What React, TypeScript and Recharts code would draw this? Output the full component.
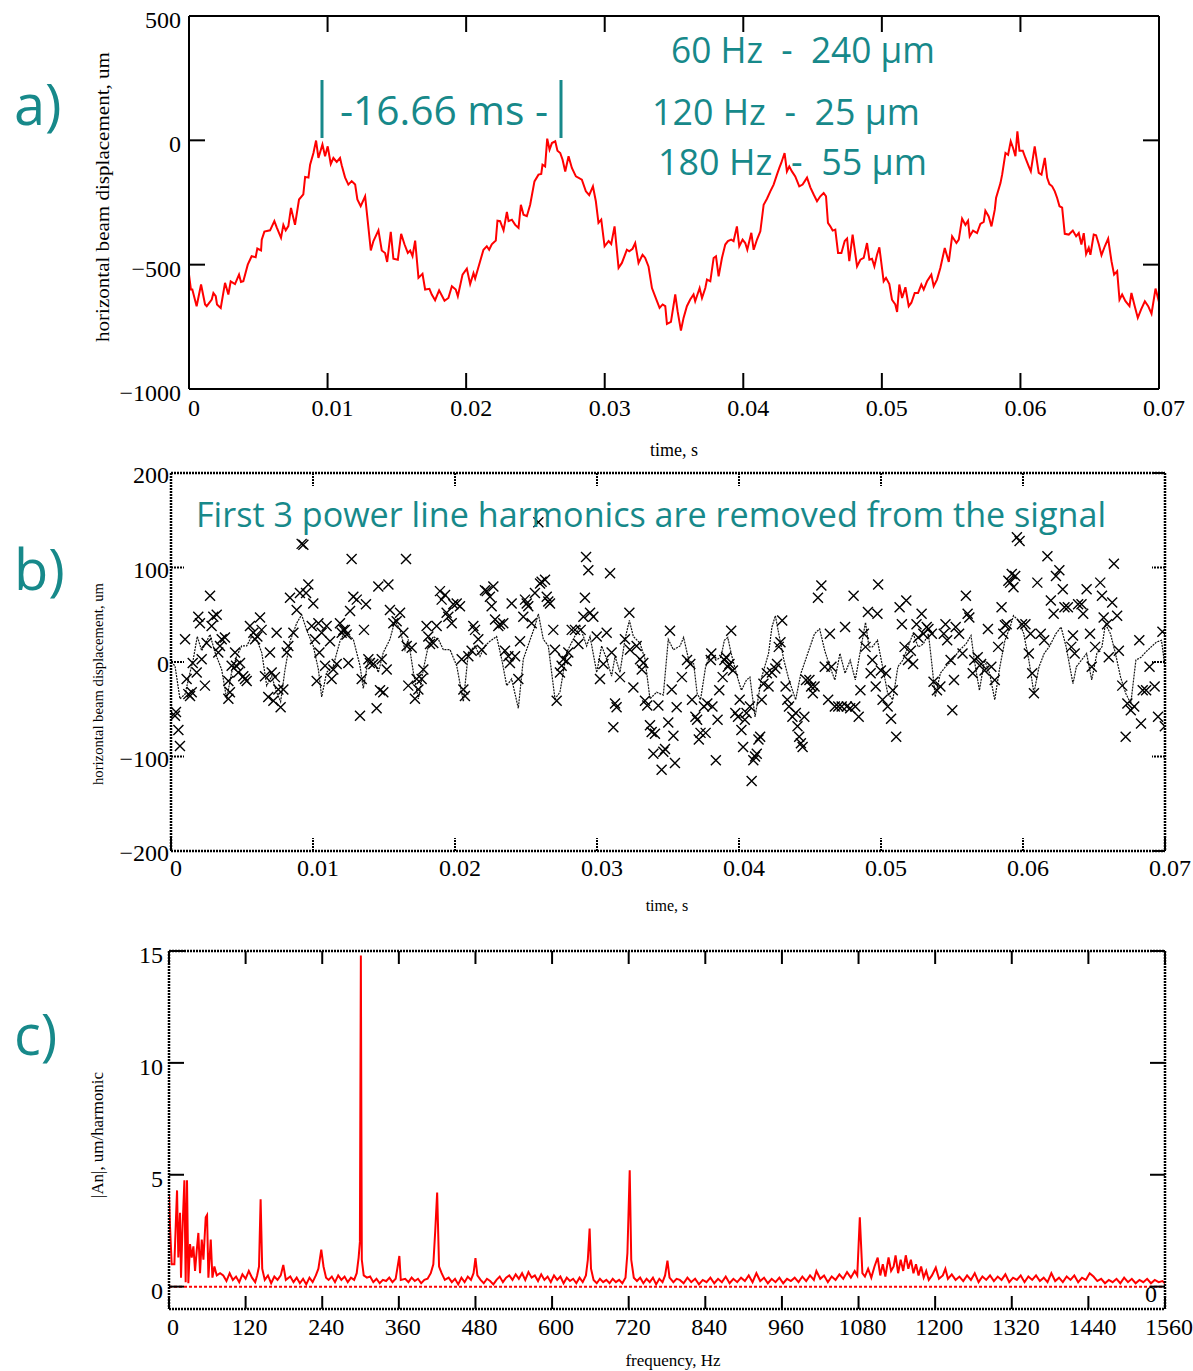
import React from 'react';
import { ComposedChart, Line, Scatter, XAxis, YAxis, ReferenceLine } from 'recharts';

const TEAL = '#17898a';
const RED = '#ff0000';
const SERIF = '"Liberation Serif", "Times New Roman", serif';
const SANS = '"Open Sans", "DejaVu Sans", sans-serif';

// axis ticks
const TIME_TICKS = [0, 0.01, 0.02, 0.03, 0.04, 0.05, 0.06, 0.07];
const DISP_A_TICKS = [-1000, -500, 0, 500];
const DISP_B_TICKS = [-200, -100, 0, 100, 200];
const FREQ_TICKS = [0, 120, 240, 360, 480, 600, 720, 840, 960, 1080, 1200, 1320, 1440, 1560];
const AMP_TICKS = [0, 5, 10, 15];

// a) raw beam displacement [ms, um]
const RAW_A1: [number, number][] = [
  [0, -540], [0.14, -600], [0.24, -600], [0.55, -667], [0.87, -580], [1.16, -660], [1.28, -667], [1.64, -640],
  [1.76, -614], [1.93, -627], [2.02, -660], [2.29, -674], [2.6, -573], [2.84, -620], [3.01, -567], [3.32, -578],
  [3.61, -540], [3.75, -570], [3.92, -567], [4.24, -500], [4.52, -466], [4.81, -470], [4.93, -435], [5.2, -443],
  [5.25, -400], [5.44, -367], [5.85, -362], [6.16, -325], [6.33, -350], [6.64, -392], [6.81, -340], [6.98, -362],
  [7.17, -345], [7.36, -272], [7.65, -340], [7.94, -238], [8.25, -217], [8.38, -147], [8.62, -150], [8.74, -98],
  [8.98, -51], [9.17, -1], [9.34, -71], [9.63, -17], [9.82, -64], [10.01, -24], [10.23, -95], [10.42, -71],
  [10.66, -87], [10.9, -71], [11.02, -100], [11.26, -149], [11.5, -178], [11.74, -164], [11.99, -178], [12.15, -238],
  [12.39, -265], [12.71, -225], [12.9, -325], [13.12, -443], [13.31, -405], [13.67, -362], [13.91, -443], [14.15, -453],
  [14.3, -489], [14.56, -368], [14.75, -476], [15.07, -480], [15.31, -376], [15.55, -418], [15.79, -453], [15.96, -443],
  [16.13, -466], [16.32, -403], [16.56, -553], [16.85, -537], [17.04, -600], [17.35, -597], [17.52, -620], [17.76, -643],
  [18.05, -603], [18.44, -645], [18.72, -634], [18.97, -587], [19.25, -600], [19.4, -627], [19.74, -540], [20.05, -516],
  [20.29, -578], [20.53, -534], [20.65, -556], [21.01, -486], [21.25, -440], [21.49, -426], [21.66, -440], [21.85, -418],
  [22.14, -403], [22.26, -323], [22.45, -325], [22.7, -362], [22.94, -288], [23.06, -325], [23.3, -319], [23.54, -340],
];
const RAW_A2: [number, number][] = [
  [23.78, -352], [23.95, -259], [24.14, -299], [24.38, -305], [24.62, -259], [24.93, -165], [25.22, -138], [25.42, -135],
  [25.51, -98], [25.7, -105], [25.85, 7], [26.02, -37], [26.19, -11], [26.43, -4], [26.59, -42], [26.79, -51],
  [26.96, -78], [27.15, -125], [27.39, -64], [27.63, -111], [27.92, -145], [28.35, -158], [28.64, -205], [28.88, -220],
  [29.15, -185], [29.36, -245], [29.55, -332], [29.75, -319], [29.99, -426], [30.28, -405], [30.47, -417], [30.71, -346],
  [31.0, -513], [31.24, -493], [31.6, -440], [31.77, -446], [32.01, -436], [32.2, -413], [32.44, -493], [32.73, -460],
  [32.92, -473], [33.16, -507], [33.41, -594], [33.77, -647], [33.96, -674], [34.18, -660], [34.37, -667], [34.49, -738],
  [34.78, -730], [35.09, -620], [35.26, -687], [35.5, -765], [35.69, -714], [35.93, -667], [36.17, -640], [36.41, -620],
  [36.53, -647], [36.85, -594], [37.02, -634], [37.26, -594], [37.38, -560], [37.62, -567], [37.86, -473], [38.03, -466],
  [38.22, -547], [38.46, -473], [38.7, -419], [38.89, -405], [39.13, -399], [39.3, -405], [39.54, -346], [39.71, -426],
  [39.95, -399], [40.14, -413], [40.29, -440], [40.58, -372], [40.75, -440], [40.99, -399], [41.23, -366], [41.47, -259],
  [41.71, -235], [41.95, -205], [42.19, -178], [42.43, -138], [42.6, -111], [42.74, -91], [42.98, -51], [43.15, -125],
  [43.32, -105], [43.51, -125], [43.75, -145], [44.04, -185], [44.28, -178], [44.6, -150], [44.84, -189], [45.08, -218],
  [45.32, -245], [45.56, -225], [45.8, -212], [45.97, -225], [46.11, -332], [46.28, -346], [46.45, -363], [46.64, -359],
];
const RAW_A3: [number, number][] = [
  [46.84, -453], [47.08, -453], [47.32, -405], [47.49, -395], [47.65, -486], [47.89, -379], [48.21, -507], [48.45, -480],
  [48.69, -473], [48.93, -413], [49.1, -480], [49.29, -476], [49.46, -507], [49.65, -460], [49.82, -430], [50.13, -567],
  [50.3, -553], [50.54, -578], [50.73, -641], [50.97, -660], [51.1, -690], [51.26, -580], [51.46, -634], [51.7, -591],
  [51.94, -667], [52.13, -653], [52.37, -614], [52.61, -614], [52.85, -580], [53.02, -600], [53.26, -567], [53.57, -540],
  [53.74, -587], [53.98, -560], [54.22, -513], [54.54, -433], [54.83, -489], [55.07, -386], [55.38, -413], [55.55, -399],
  [55.79, -315], [56.03, -340], [56.22, -323], [56.34, -386], [56.58, -363], [56.87, -373], [57.11, -336], [57.35, -328],
  [57.47, -283], [57.71, -306], [57.91, -346], [58.15, -279], [58.24, -232], [58.56, -172], [58.68, -138], [58.92, -51],
  [59.11, -58], [59.3, -4], [59.47, -31], [59.64, -64], [59.78, 36], [59.93, -42], [60.17, -42], [60.36, -71],
  [60.6, -105], [60.75, -125], [61.03, -24], [61.32, -131], [61.52, -138], [61.76, -71], [61.93, -151], [62.09, -176],
  [62.29, -185], [62.48, -205], [62.65, -232], [62.82, -265], [63.01, -271], [63.2, -376], [63.49, -379], [63.78, -363],
  [64.02, -386], [64.21, -373], [64.4, -419], [64.57, -373], [64.74, -457], [64.93, -432], [65.05, -460], [65.29, -379],
  [65.46, -382], [65.66, -419], [65.85, -462], [66.09, -426], [66.33, -395], [66.57, -486], [66.76, -540], [66.98, -526],
  [67.15, -641], [67.34, -620], [67.58, -647], [67.87, -667], [68.01, -614], [68.25, -667], [68.47, -714], [68.71, -680],
  [68.98, -647], [69.22, -667], [69.46, -697], [69.75, -596], [70, -650],
];

// b) signal with harmonics removed, line [ms, um]
const LINE_B1: [number, number][] = [
  [0, 0], [0.28, -4], [0.63, -39], [0.99, -34], [1.34, -11], [1.57, 3], [1.85, 27], [2.16, 12], [2.51, 22], [2.75, 29],
  [3.1, 10], [3.57, -8], [3.92, -39], [4.27, -11], [4.62, 6], [4.98, 17], [5.33, 17], [5.68, 27], [6.03, 24], [6.39, 10],
  [6.74, -25], [7.09, -15], [7.44, -32], [7.72, -42], [8.03, -8], [8.38, 22], [8.85, 41], [9.2, 50], [9.55, 34], [10.02, 17],
  [10.38, -8], [10.61, -37], [10.96, -11], [11.43, -4], [11.9, 22], [12.25, 32], [12.84, 24], [13.31, -4], [13.54, -28],
  [13.9, 3], [14.25, 3], [14.6, -11], [14.95, 10], [15.42, 24], [15.77, 44], [16.13, 34], [16.48, 13], [16.71, 24],
  [17.07, -11], [17.42, -39], [17.77, -8], [18.12, 17], [18.47, 27], [18.83, 24], [19.18, 13], [19.65, 13], [20.12, -4],
  [20.59, -42], [20.94, 10], [21.41, 17], [21.76, 6], [22.11, 17], [22.46, 22], [22.93, 27], [23.29, 3], [23.64, -25],
  [23.99, -18], [24.46, -49], [24.81, 3], [25.16, 18], [25.63, 38], [25.87, 51], [26.22, 24], [26.57, 17], [27.04, -39],
  [27.39, -32], [27.86, 10], [28.33, 24], [28.8, 38], [29.27, 17], [29.51, 27], [29.98, -11], [30.33, 17], [30.68, 3],
  [31.03, -15], [31.27, 6], [31.62, -11], [31.97, 24], [32.28, 44], [32.56, 27], [33.03, 20], [33.38, 3], [33.73, -39],
  [34.2, -32], [34.67, -35], [35.02, 24], [35.38, 13], [35.85, 17],
];
const LINE_B2: [number, number][] = [
  [36.1, 26], [36.46, 2], [36.81, -2], [37.05, -33], [37.29, -40], [37.65, -5], [38.01, 9], [38.37, 2], [38.73, 5],
  [38.97, 23], [39.21, 26], [39.45, 9], [39.81, -12], [40.17, -30], [40.53, -19], [40.77, -16], [41.13, -58], [41.6, -16],
  [42.08, 9], [42.32, 37], [42.56, 49], [42.8, 30], [43.16, 2], [43.52, -19], [43.99, -40], [44.36, -12], [44.84, 9],
  [45.32, 30], [45.68, 35], [46.04, 12], [46.4, -5], [46.75, -19], [47.11, 9], [47.47, -12], [47.83, 2], [48.19, -19],
  [48.55, 12], [48.91, 42], [49.15, 16], [49.39, 16], [49.75, 23], [50.11, -5], [50.47, -33], [50.83, -40], [51.19, -5],
  [51.54, 2], [51.9, 16], [52.26, 30], [52.62, 16], [52.98, 19], [53.34, 30], [53.58, -2], [53.82, -37], [54.18, -12],
  [54.54, -5], [55.02, 2], [55.5, 12], [55.98, 19], [56.34, 28], [56.57, 2], [56.93, -30], [57.29, 2], [57.65, -12],
  [58.01, -40], [58.37, -5], [58.73, 23], [59.09, 37], [59.33, 49], [59.69, 44], [60.05, 30], [60.41, 2], [60.77, -33],
  [61.13, -5], [61.49, 9], [61.84, 16], [62.32, 30], [62.68, 37], [63.04, 16], [63.52, -23], [63.76, -5], [64.12, 2],
  [64.48, 9], [64.84, -19], [65.2, 9], [65.56, 16], [65.8, 40], [66.16, 30], [66.51, 9], [66.87, -16], [67.23, -33],
  [67.59, -44], [67.95, 2], [68.31, 5], [68.67, 11], [69.03, 16], [69.39, 21], [69.75, 23], [70, -5],
];

// b) measured samples (crosses) [ms, um]
const CROSS_B1: [number, number][] = [
  [0.28, -57], [0.35, -53], [0.52, -72], [0.63, -89], [0.99, 24], [1.1, -18], [1.22, -34], [1.34, -36], [1.46, -32],
  [1.53, -1], [1.81, -11], [1.92, 48], [2.04, 41], [2.16, 3], [2.39, -25], [2.51, 20], [2.75, 70], [2.86, 38], [2.98, 48],
  [3.22, 50], [3.33, 10], [3.45, 17], [3.57, 24], [3.8, 26], [4.04, -39], [4.04, -20], [4.15, -32], [4.27, -4], [4.51, 10],
  [4.58, -4], [4.74, -11], [4.86, -1], [5.09, -15], [5.21, -18], [5.33, -20], [5.56, 38], [5.8, 31], [5.92, 24], [6.08, 27],
  [6.27, 47], [6.38, 34], [6.62, -15], [6.85, -37], [6.97, 10], [7.09, -11], [7.21, -41], [7.32, -16], [7.44, 31],
  [7.56, -29], [7.72, -48], [7.91, -29], [8.15, 10], [8.26, 17], [8.38, 68], [8.62, 31], [8.85, 55], [9.08, 73], [9.2, 125],
  [9.32, 124], [9.51, 73], [9.67, 82], [9.91, 38], [10.02, 62], [10.14, 24], [10.26, -20], [10.38, 41], [10.45, 10],
  [10.61, 31], [10.85, -4], [10.96, 38], [11.2, 22], [11.31, -18], [11.43, -8], [11.67, -2], [11.9, 41], [12.02, 31],
  [12.14, 34], [12.25, 34], [12.37, 29], [12.49, -1], [12.61, 54], [12.72, 109], [12.84, 69], [13.08, 66], [13.31, -57],
  [13.43, -18], [13.59, 34], [13.73, 61], [13.9, 3], [14.01, -1], [14.25, -2], [14.48, -49], [14.6, 80], [14.72, -30],
  [14.84, 3], [14.95, -32], [15.19, -8], [15.31, 82], [15.42, 55], [15.66, 41], [15.89, 43], [16.13, 52], [16.36, 31],
  [16.55, 109], [16.6, 17], [16.71, -25], [16.95, 15], [17.18, -39], [17.3, -18], [17.42, -29], [17.65, -18], [17.77, -8],
  [18.0, 38], [18.12, 27], [18.24, 19], [18.47, 20], [18.71, 38], [18.94, 75], [19.06, 66], [19.3, 71], [19.41, 52],
  [19.53, 48], [19.77, 41], [19.88, 61], [20.12, 62], [20.35, 59], [20.47, 3], [20.59, -29], [20.7, -36], [20.94, 6],
  [21.17, 12], [21.29, 38], [21.41, 34], [21.64, 24], [21.88, 13], [22.11, 76], [22.23, 75], [22.46, 69], [22.58, 59],
  [22.7, 80], [22.82, 45], [23.05, 38], [23.17, 40], [23.4, 41], [23.52, 12], [23.76, 6], [23.87, -1], [23.99, 62],
  [24.23, 6], [24.46, -18], [24.58, 22], [24.81, 48], [24.93, 66], [25.05, 62], [25.16, 59], [25.4, 41], [25.63, 73],
  [25.87, 148], [25.99, 83], [26.1, 85], [26.34, 87], [26.46, 69], [26.57, 64], [26.69, 62], [26.92, 34], [27.04, 13],
  [27.16, -41], [27.39, -11], [27.51, -4], [27.63, 3], [27.86, 1], [27.98, 10], [28.22, 34], [28.45, 34], [28.69, 19],
  [28.85, 34], [29.04, 48], [29.15, 68], [29.23, 111], [29.39, 97], [29.51, 52], [29.74, 48], [29.98, 27], [30.21, -18],
  [30.45, -2], [30.68, 31], [30.92, 94], [31.03, 10], [31.15, -69], [31.27, -44], [31.38, -48], [31.62, -16], [31.97, 24],
  [32.28, 52], [32.32, 13], [32.56, -27], [32.79, 17], [33.03, 3], [33.15, -8], [33.26, -1], [33.38, -41], [33.54, -46],
  [33.73, -67], [33.85, -74], [33.97, -97], [34.08, -76], [34.32, -46], [34.55, -114], [34.67, -95], [34.79, -92],
  [35.02, -64], [35.14, 33], [35.26, -29], [35.38, -78], [35.49, -107], [35.61, -48],
];
const CROSS_B2: [number, number][] = [
  [35.98, -16], [36.34, 2], [36.57, -2], [36.69, -40], [36.93, -58], [37.05, -61], [37.17, -82], [37.29, -75], [37.53, -47],
  [37.65, -75], [37.77, -44], [38.01, 2], [38.05, 9], [38.13, -47], [38.37, -104], [38.49, -61], [38.61, -30], [38.85, -16],
  [38.97, 2], [39.09, 5], [39.21, -5], [39.33, -2], [39.45, 33], [39.57, -9], [39.74, -54], [39.93, -58], [40.05, -40],
  [40.17, -72], [40.29, -90], [40.41, -61], [40.53, -54], [40.77, -47], [40.89, -126], [41.01, -104], [41.13, -100],
  [41.25, -97], [41.37, -82], [41.49, -79], [41.6, -40], [41.72, -23], [41.96, -12], [42.08, -26], [42.32, -11], [42.56, -7],
  [42.68, -2], [42.8, 16], [42.92, 21], [43.04, 44], [43.28, -26], [43.4, -40], [43.52, -47], [43.76, -58], [44.0, -54],
  [44.12, -68], [44.24, -79], [44.36, -86], [44.48, -90], [44.6, -58], [44.72, -19], [44.96, -19], [45.08, -26], [45.2, -33],
  [45.32, -26], [45.56, 68], [45.8, 81], [46.04, -5], [46.28, -40], [46.4, 30], [46.51, -5], [46.75, -47], [46.99, -47],
  [47.23, -47], [47.47, 37], [47.59, -47], [47.83, -49], [48.07, 70], [48.19, -47], [48.43, -58], [48.55, -30], [48.79, 30],
  [48.91, 16], [49.08, 53], [49.27, -12], [49.39, 2], [49.63, -26], [49.75, 51], [49.8, 82], [49.99, -9], [50.11, -40],
  [50.35, -12], [50.47, -47], [50.71, -60], [50.83, -30], [51.07, -79], [51.31, 58], [51.47, 40], [51.66, 16], [51.78, 65],
  [51.9, 2], [52.1, 12], [52.26, -2], [52.5, 40], [52.62, 26], [52.86, 51], [52.98, 30], [53.22, 37], [53.34, 35],
  [53.58, 30], [53.7, -21], [53.94, -30], [54.18, -26], [54.42, 30], [54.54, 40], [54.66, 23], [54.9, 2], [55.02, -51],
  [55.14, -19], [55.26, 37], [55.5, 30], [55.74, 9], [55.98, 70], [56.1, 51], [56.22, 47], [56.46, -12], [56.57, 2],
  [56.81, 5], [57.05, -2], [57.29, -9], [57.53, 35], [57.77, -5], [58.01, -19], [58.25, 16], [58.49, 58], [58.61, 30],
  [58.73, 39], [58.85, 40], [58.97, 86], [59.09, 84], [59.21, 93], [59.33, 79], [59.45, 91], [59.57, 132], [59.76, 128],
  [59.93, 40], [60.17, 40], [60.41, 9], [60.53, 30], [60.65, -12], [60.77, -33], [61.01, 84], [61.25, 30], [61.49, 23],
  [61.72, 112], [61.96, 65], [62.16, 51], [62.32, 91], [62.56, 97], [62.8, 77], [62.92, 58], [63.16, 58], [63.4, 16],
  [63.52, 28], [63.64, 9], [63.88, 61], [64.12, 61], [64.24, 51], [64.48, 77], [64.72, 30], [64.84, -5], [65.08, 16],
  [65.44, 84], [65.56, 70], [65.68, 47], [65.92, 40], [66.04, 5], [66.28, 63], [66.4, 104], [66.63, 49], [66.75, 12],
  [66.99, -25], [67.23, -79], [67.35, -44], [67.59, -51], [67.83, -47], [68.19, 23], [68.31, -65], [68.43, -30],
  [68.67, -30], [68.91, -5], [69.27, -26], [69.51, -58], [69.82, 32], [69.99, -68],
];

// c) harmonic amplitude spectrum [Hz, um/harmonic]
const SPEC_LOW: [number, number][] = [
  [0, 4.1], [1.6, 2.7], [4.2, 1.0], [8.4, 1.0], [11, 3.1], [12.6, 4.3], [14.6, 1.3], [17.3, 3.3], [18.8, 0.4], [20.9, 2.4],
  [24.1, 4.75], [26.1, 0.2], [28.2, 4.75], [30.3, 0.15], [32.9, 1.9], [35.6, 1.3], [38.2, 1.8], [40.8, 0.7], [43.4, 1.6],
  [46, 2.4], [48.6, 0.6], [51.3, 2.1], [53.9, 1.2], [57.5, 3.1], [59.6, 3.2], [61.7, 0.4], [65.4, 2.1], [68, 0.4],
  [71.1, 0.9], [74.8, 0.5], [80, 0.6],
];
const SPEC_MID: [number, number][] = [
  [85, 0.5], [90, 0.25], [95, 0.6], [100, 0.3], [105, 0.45], [110, 0.2], [115, 0.55], [120, 0.35], [125, 0.7], [130, 0.4],
  [135, 0.2], [138, 0.5], [141, 0.9], [143.5, 3.9], [146, 0.8], [150, 0.3], [155, 0.5], [160, 0.15], [165, 0.45],
  [170, 0.3], [175, 0.5], [179, 0.97], [183, 0.3], [190, 0.45], [195, 0.2], [200, 0.4], [205, 0.15], [210, 0.35],
  [215, 0.1], [220, 0.4], [225, 0.2], [230, 0.5], [234, 0.8], [238.5, 1.65], [242, 0.9], [246, 0.4], [250, 0.3],
  [255, 0.45], [260, 0.2], [265, 0.5], [270, 0.3], [275, 0.45], [280, 0.2], [285, 0.4], [290, 0.3], [294, 0.6], [297, 1.3],
  [299, 2.0], [300.5, 14.8], [302, 1.2], [305, 0.5], [310, 0.4], [315, 0.45], [320, 0.2], [325, 0.35], [330, 0.15],
  [335, 0.3], [340, 0.25], [345, 0.4], [350, 0.2], [355, 0.35], [360.8, 1.37], [363, 0.3], [370, 0.35], [375, 0.2],
  [380, 0.4], [385, 0.25], [390, 0.35], [395, 0.15], [400, 0.3], [405, 0.35], [410, 0.6], [414, 1.0], [417, 2.5], [420, 4.2],
  [423, 0.9], [427, 0.6], [432, 0.3], [438, 0.4], [443, 0.2], [448, 0.35], [453, 0.1], [458, 0.4], [463, 0.2], [468, 0.45],
  [473, 0.3], [477, 0.6], [480, 1.27], [483, 0.5], [488, 0.3], [493, 0.15], [498, 0.35], [503, 0.25], [508, 0.1], [513, 0.3],
  [518, 0.45], [523, 0.2], [528, 0.4], [533, 0.5], [538, 0.3], [543, 0.55], [548, 0.35], [553, 0.6], [558, 0.3], [563, 0.65],
  [568, 0.4], [573, 0.5], [578, 0.25], [583, 0.55], [588, 0.3], [593, 0.45], [598, 0.2], [603, 0.5], [608, 0.3], [613, 0.45],
  [618, 0.15], [623, 0.4], [628, 0.25], [633, 0.35], [638, 0.15], [643, 0.4], [648, 0.2], [653, 0.5], [656, 1.2],
  [658.8, 2.6], [661, 0.8], [665, 0.3], [670, 0.15], [675, 0.35], [680, 0.2], [685, 0.3], [690, 0.15], [695, 0.35],
  [700, 0.2], [705, 0.3], [710, 0.15], [715, 0.4], [718, 1.5], [721.6, 5.2], [724, 1.2], [728, 0.4], [733, 0.25],
  [738, 0.4], [743, 0.15], [748, 0.35], [753, 0.2], [758, 0.4], [763, 0.1], [768, 0.35], [773, 0.2], [777, 0.5],
  [780.7, 1.16], [784, 0.4], [790, 0.2], [795, 0.35],
];
const SPEC_HIGH: [number, number][] = [
  [800, 0.3], [806, 0.15], [812, 0.4], [818, 0.2], [824, 0.35], [830, 0.1], [836, 0.3], [842, 0.2], [848, 0.4], [854, 0.15],
  [860, 0.35], [866, 0.2], [872, 0.45], [878, 0.15], [884, 0.35], [890, 0.2], [896, 0.4], [902, 0.25], [908, 0.5],
  [914, 0.2], [920, 0.6], [926, 0.25], [932, 0.4], [938, 0.15], [944, 0.35], [950, 0.2], [956, 0.4], [962, 0.15],
  [968, 0.35], [974, 0.25], [980, 0.4], [986, 0.2], [992, 0.45], [998, 0.25], [1004, 0.5], [1010, 0.3], [1014, 0.7],
  [1020, 0.35], [1026, 0.5], [1032, 0.2], [1038, 0.45], [1044, 0.3], [1050, 0.55], [1056, 0.35], [1062, 0.65], [1068, 0.4],
  [1074, 0.7], [1078, 0.5], [1082, 3.1], [1086, 0.6], [1090, 0.45], [1095, 0.8], [1100, 0.4], [1105, 0.9], [1110, 1.3],
  [1114, 0.5], [1118, 1.0], [1122, 0.45], [1127, 1.3], [1131, 0.7], [1135, 0.9], [1138, 1.4], [1142, 0.6], [1146, 1.2],
  [1150, 0.7], [1154, 1.4], [1158, 0.8], [1162, 1.2], [1166, 0.6], [1170, 1.0], [1174, 0.5], [1178, 0.9], [1182, 0.4],
  [1186, 0.7], [1190, 0.3], [1195, 0.5], [1201, 0.85], [1206, 0.35], [1212, 0.5], [1216, 0.8], [1220, 0.35], [1226, 0.55],
  [1232, 0.3], [1238, 0.45], [1244, 0.25], [1250, 0.5], [1256, 0.3], [1262, 0.6], [1268, 0.2], [1274, 0.45], [1280, 0.3],
  [1286, 0.5], [1292, 0.25], [1298, 0.45], [1304, 0.3], [1310, 0.55], [1316, 0.2], [1322, 0.4], [1328, 0.3], [1334, 0.5],
  [1340, 0.2], [1346, 0.45], [1352, 0.3], [1358, 0.5], [1364, 0.25], [1370, 0.4], [1376, 0.2], [1382, 0.6], [1388, 0.25],
  [1394, 0.4], [1400, 0.2], [1406, 0.45], [1412, 0.3], [1418, 0.5], [1424, 0.2], [1430, 0.4], [1436, 0.3], [1442, 0.6],
  [1448, 0.45], [1454, 0.25], [1460, 0.35], [1466, 0.15], [1472, 0.3], [1478, 0.2], [1484, 0.35], [1490, 0.15],
  [1496, 0.4], [1502, 0.2], [1508, 0.35], [1514, 0.15], [1520, 0.3], [1526, 0.2], [1532, 0.35], [1538, 0.15], [1544, 0.3],
  [1550, 0.2], [1556, 0.25], [1560, 0.15],
];

const toSeconds = (rows: [number, number][]) => rows.map(([ms, v]) => ({ t: ms / 1000, v }));
const dataA = toSeconds([...RAW_A1, ...RAW_A2, ...RAW_A3]);
const lineB = toSeconds([...LINE_B1, ...LINE_B2]);
const crossB = toSeconds([...CROSS_B1, ...CROSS_B2]);
const dataC = [...SPEC_LOW, ...SPEC_MID, ...SPEC_HIGH].map(([f, a]) => ({ f, a }));

const signed = (v: number) => (v < 0 ? `\u2212${Math.abs(v)}` : `${v}`);
const timeFmt = (v: number) => (v === 0 ? '0' : v.toFixed(2));

interface TickStyle {
  side: 'bottom' | 'left' | 'right';
  len: number;
  dash?: string;
  fmt?: (v: number) => string | null;
  dx?: number;
  dy?: number;
  anchor?: 'start' | 'middle' | 'end';
  // distance to the opposite frame edge, where a mirrored tick is drawn
  mirror?: number;
}

// inward tick marks plus optional label
const tickRenderer = (s: TickStyle) => (props: any) => {
  const { x, y, payload } = props;
  let x2 = x;
  let y2 = y;
  if (s.side === 'bottom') y2 = y - s.len;
  if (s.side === 'left') x2 = x + s.len;
  if (s.side === 'right') x2 = x - s.len;
  const label = s.fmt ? s.fmt(payload.value) : null;
  return (
    <g>
      <line x1={x} y1={y} x2={x2} y2={y2} stroke='#000' strokeWidth={2} strokeDasharray={s.dash} />
      {s.mirror !== undefined && s.side === 'bottom' && (
        <line
          x1={x}
          y1={y - s.mirror}
          x2={x}
          y2={y - s.mirror + s.len}
          stroke='#000'
          strokeWidth={2}
          strokeDasharray={s.dash}
        />
      )}
      {label !== null && (
        <text
          x={x + (s.dx ?? 0)}
          y={y + (s.dy ?? 0)}
          textAnchor={s.anchor ?? 'middle'}
          fontFamily={SERIF}
          fontSize={24}
          fill='#000'
        >
          {label}
        </text>
      )}
    </g>
  );
};

const cross = (p: any) => (
  <path
    d={`M${p.cx - 5},${p.cy - 5}L${p.cx + 5},${p.cy + 5}M${p.cx - 5},${p.cy + 5}L${p.cx + 5},${p.cy - 5}`}
    stroke='#000'
    strokeWidth={1.4}
    fill='none'
  />
);

const solidAxis = { stroke: '#000', strokeWidth: 2 };
const dottedAxis = { stroke: '#000', strokeWidth: 2.5, strokeDasharray: '2 1' };

// axes are 1px thick so they still render; margins account for that pixel
const axisBase = {
  interval: 0 as const,
  tickSize: 0,
  tickMargin: 0,
  tickLine: false,
  allowDataOverflow: true,
};

const App: React.FC = () => {
  return (
    <div style={{ position: 'absolute', left: 0, top: 0, width: 1193, height: 1371, background: '#fff' }}>
      {/* a) */}
      <div style={{ position: 'absolute', left: 0, top: 0 }}>
        <ComposedChart width={1193} height={460} margin={{ top: 15, right: 33, bottom: 70, left: 188 }}>
          <XAxis
            {...axisBase}
            dataKey='t'
            type='number'
            domain={[0, 0.07]}
            ticks={TIME_TICKS}
            height={1}
            axisLine={solidAxis}
            tick={tickRenderer({ side: 'bottom', len: 16, fmt: timeFmt, dx: 5, dy: 27, mirror: 373 })}
          />
          <XAxis
            {...axisBase}
            xAxisId='top'
            orientation='top'
            type='number'
            domain={[0, 0.07]}
            ticks={TIME_TICKS}
            height={1}
            axisLine={solidAxis}
            tick={false}
          />
          <YAxis
            {...axisBase}
            dataKey='v'
            type='number'
            domain={[-1000, 500]}
            ticks={DISP_A_TICKS}
            width={1}
            axisLine={solidAxis}
            tick={tickRenderer({ side: 'left', len: 16, fmt: signed, dx: -8, dy: 12, anchor: 'end' })}
          />
          <YAxis
            {...axisBase}
            yAxisId='right'
            orientation='right'
            type='number'
            domain={[-1000, 500]}
            ticks={DISP_A_TICKS}
            width={1}
            axisLine={solidAxis}
            tick={tickRenderer({ side: 'right', len: 16 })}
          />
          <Line
            data={dataA}
            dataKey='v'
            type='linear'
            stroke={RED}
            strokeWidth={2}
            dot={false}
            isAnimationActive={false}
          />
        </ComposedChart>
      </div>

      {/* b) */}
      <div style={{ position: 'absolute', left: 0, top: 460 }}>
        <ComposedChart width={1193} height={460} margin={{ top: 12, right: 27, bottom: 68, left: 170 }}>
          <XAxis
            {...axisBase}
            dataKey='t'
            type='number'
            domain={[0, 0.07]}
            ticks={TIME_TICKS}
            height={1}
            axisLine={dottedAxis}
            tick={tickRenderer({ side: 'bottom', len: 13, dash: '2 1', fmt: timeFmt, dx: 5, dy: 25, mirror: 378 })}
          />
          <XAxis
            {...axisBase}
            xAxisId='top'
            orientation='top'
            type='number'
            domain={[0, 0.07]}
            ticks={TIME_TICKS}
            height={1}
            axisLine={dottedAxis}
            tick={false}
          />
          <YAxis
            {...axisBase}
            dataKey='v'
            type='number'
            domain={[-200, 200]}
            ticks={DISP_B_TICKS}
            width={1}
            axisLine={dottedAxis}
            tick={tickRenderer({ side: 'left', len: 13, dash: '2 1', fmt: signed, dx: -2, dy: 10, anchor: 'end' })}
          />
          <YAxis
            {...axisBase}
            yAxisId='right'
            orientation='right'
            type='number'
            domain={[-200, 200]}
            ticks={DISP_B_TICKS}
            width={1}
            axisLine={dottedAxis}
            tick={tickRenderer({ side: 'right', len: 13, dash: '2 1' })}
          />
          <Line
            data={lineB}
            dataKey='v'
            type='linear'
            stroke='#111'
            strokeWidth={1.2}
            strokeDasharray='2 1'
            dot={false}
            isAnimationActive={false}
          />
          <Scatter data={crossB} dataKey='v' shape={cross} isAnimationActive={false} />
        </ComposedChart>
      </div>

      {/* c) */}
      <div style={{ position: 'absolute', left: 0, top: 920 }}>
        <ComposedChart width={1193} height={451} margin={{ top: 30, right: 27, bottom: 61, left: 168 }}>
          <XAxis
            {...axisBase}
            dataKey='f'
            type='number'
            domain={[0, 1560]}
            ticks={FREQ_TICKS}
            height={1}
            axisLine={dottedAxis}
            tick={tickRenderer({ side: 'bottom', len: 13, fmt: (v) => `${v}`, dx: 4, dy: 26, mirror: 358 })}
          />
          <XAxis
            {...axisBase}
            xAxisId='top'
            orientation='top'
            type='number'
            domain={[0, 1560]}
            ticks={FREQ_TICKS}
            height={1}
            axisLine={dottedAxis}
            tick={false}
          />
          <YAxis
            {...axisBase}
            dataKey='a'
            type='number'
            domain={[-1, 15]}
            ticks={AMP_TICKS}
            width={1}
            axisLine={dottedAxis}
            tick={tickRenderer({ side: 'left', len: 15, fmt: (v) => `${v}`, dx: -6, dy: 12, anchor: 'end' })}
          />
          <YAxis
            {...axisBase}
            yAxisId='right'
            orientation='right'
            type='number'
            domain={[-1, 15]}
            ticks={AMP_TICKS}
            width={1}
            axisLine={dottedAxis}
            tick={tickRenderer({ side: 'right', len: 15, fmt: (v) => (v === 0 ? '0' : null), dx: -14, dy: 15 })}
          />
          <ReferenceLine y={0} stroke={RED} strokeWidth={2} strokeDasharray='3 2' />
          <Line
            data={dataC}
            dataKey='a'
            type='linear'
            stroke={RED}
            strokeWidth={2}
            dot={false}
            isAnimationActive={false}
          />
        </ComposedChart>
      </div>

      {/* annotations and axis titles */}
      <svg
        width={1193}
        height={1371}
        style={{ position: 'absolute', left: 0, top: 0, pointerEvents: 'none' }}
      >
        <g fontFamily={SANS} fill={TEAL}>
          <text x={14} y={125} fontSize={56}>a)</text>
          <text x={14} y={590} fontSize={56}>b)</text>
          <text x={14} y={1055} fontSize={56}>c)</text>
          <text x={340} y={125} fontSize={41} textLength={208} lengthAdjust='spacingAndGlyphs'>-16.66 ms -</text>
          <text x={671} y={63} fontSize={37} textLength={264} lengthAdjust='spacingAndGlyphs' style={{ whiteSpace: 'pre' }}>
            60 Hz  -  240 µm
          </text>
          <text x={652} y={125} fontSize={37} textLength={268} lengthAdjust='spacingAndGlyphs' style={{ whiteSpace: 'pre' }}>
            120 Hz  -  25 µm
          </text>
          <text x={658} y={175} fontSize={37} textLength={269} lengthAdjust='spacingAndGlyphs' style={{ whiteSpace: 'pre' }}>
            180 Hz  -  55 µm
          </text>
          <text x={196} y={527} fontSize={35} textLength={910} lengthAdjust='spacingAndGlyphs'>
            First 3 power line harmonics are removed from the signal
          </text>
        </g>
        <line x1={322} y1={80} x2={322} y2={138} stroke={TEAL} strokeWidth={3} />
        <line x1={561} y1={80} x2={561} y2={138} stroke={TEAL} strokeWidth={3} />
        <g fontFamily={SERIF} fill='#000' textAnchor='middle'>
          <text x={674} y={456} fontSize={18}>time, s</text>
          <text x={667} y={911} fontSize={16}>time, s</text>
          <text x={673} y={1366} fontSize={17}>frequency, Hz</text>
          <text transform='translate(109,197) rotate(-90)' fontSize={19} textLength={290} lengthAdjust='spacingAndGlyphs'>
            horizontal beam displacement, um
          </text>
          <text transform='translate(103,684) rotate(-90)' fontSize={15} textLength={202} lengthAdjust='spacingAndGlyphs'>
            horizontal beam displacement, um
          </text>
          <text transform='translate(103,1135) rotate(-90)' fontSize={16} textLength={126} lengthAdjust='spacingAndGlyphs'>
            |An|, um/harmonic
          </text>
        </g>
      </svg>
    </div>
  );
};

export default App;
